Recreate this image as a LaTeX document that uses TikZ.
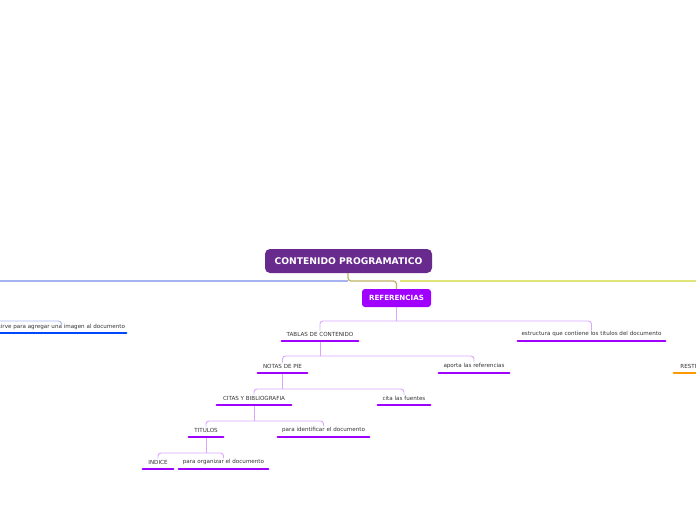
\documentclass[tikz,border=0pt]{standalone}
\usepackage{fontspec}
\setmainfont{DejaVu Sans}
\definecolor{cpurple}{RGB}{104,42,140}
\definecolor{vpurple}{RGB}{160,0,255}
\definecolor{lpurple}{RGB}{216,166,255}
\definecolor{lblue}{RGB}{165,180,240}
\definecolor{lyellow}{RGB}{222,228,120}
\definecolor{olive}{RGB}{190,178,100}
\definecolor{bblue}{RGB}{0,72,255}
\definecolor{orng}{RGB}{255,153,0}
\tikzset{
  topic/.style={inner xsep=0pt, inner ysep=1pt, font=\fontsize{5.6}{7}\selectfont, text=black!80},
  bar/.style={line width=2.6pt, line cap=round, draw=vpurple},
  conn/.style={draw=lpurple, line width=0.9pt, rounded corners=3pt},
}
\begin{document}
\begin{tikzpicture}[x=1pt,y=-1pt]
\useasboundingbox (0,0) rectangle (696,520);
\clip (0,0) rectangle (696,520);
% main lines
\node[fill=cpurple, rounded corners=5pt, minimum width=167pt, minimum height=24pt, text=white, font=\fontsize{9.2}{11}\bfseries\selectfont] (cp) at (348.5,261) {CONTENIDO PROGRAMATICO};
\coordinate (j0) at (348,281);
\coordinate (lend) at (-5,281);
\coordinate (ystart) at (400,281);
\coordinate (rend) at (701,281);
\draw[lblue, line width=1.2pt] (j0) -- (lend);
\draw[lyellow, line width=1.2pt] (ystart) -- (rend);
\node[fill=vpurple, rounded corners=3pt, minimum width=69pt, minimum height=18pt, text=white, font=\fontsize{7.1}{8}\bfseries\selectfont] (ref) at (396.5,298) {REFERENCIAS};
\draw[draw=olive, line width=1.2pt, rounded corners=3pt] (cp.south -| j0) |- (ref.north |- j0) -- (ref.north);
% level 1
\node[topic, minimum width=76pt] (tabl) at (320,334) {TABLAS DE CONTENIDO};
\node[topic, minimum width=147pt] (estr) at (591.5,334) {estructura que contiene los titulos del documento};
\coordinate (h0) at (396.5,321);
\draw[conn] (ref.south) -- (h0);
\draw[conn] (tabl.north) |- (h0) -| (estr.north);
% level 2
\node[topic, minimum width=49pt] (notas) at (282.5,366) {NOTAS DE PIE};
\node[topic, minimum width=70pt] (aporta) at (474,366) {aporta las referencias};
\coordinate (tablb) at ([yshift=-7pt]tabl.center);
\coordinate (h1) at (320,356);
\draw[conn] (tablb) -- (h1);
\draw[conn] (notas.north) |- (h1) -| (aporta.north);
% level 3
\node[topic, minimum width=74pt] (citas) at (254,398) {CITAS Y BIBLIOGRAFIA};
\node[topic, minimum width=52pt] (cita) at (404,398) {cita las fuentes};
\coordinate (notasb) at ([yshift=-7pt]notas.center);
\coordinate (h2) at (282.5,389);
\draw[conn] (notasb) -- (h2);
\draw[conn] (citas.north) |- (h2) -| (cita.north);
% level 4
\node[topic, minimum width=34pt] (titu) at (206,430) {TITULOS};
\node[topic, minimum width=91pt] (ident) at (323.5,430) {para identificar el documento};
\coordinate (citasb) at ([yshift=-7pt]citas.center);
\coordinate (h3) at (254,421);
\draw[conn] (citasb) -- (h3);
\draw[conn] (titu.north) |- (h3) -| (ident.north);
% level 5
\node[topic, minimum width=30pt] (indice) at (158,462) {INDICE};
\node[topic, minimum width=89pt] (organ) at (223.5,462) {para organizar el documento};
\coordinate (titub) at ([yshift=-7pt]titu.center);
\coordinate (h4) at (206,453);
\draw[conn] (titub) -- (h4);
\draw[conn] (indice.north) |- (h4) -| (organ.north);
% bars
\foreach \n in {tabl,estr,notas,aporta,citas,cita,titu,ident,indice,organ}
  \draw[bar] ([yshift=-7pt]\n.west) -- ([yshift=-7pt]\n.east);
% left branch
\node[topic, minimum width=129pt] (sirve) at (61.5,327) {sirve para agregar una imagen al documento};
\coordinate (lsrc) at (-20,321);
\draw[conn, draw=lblue] (lsrc) -| (sirve.north);
\draw[bar, draw=bblue] ([yshift=-6pt]sirve.west) -- ([yshift=-6pt]sirve.east);
% right branch
\node[topic, minimum width=58pt] (restr) at (703,366) {RESTRICCIONES};
\draw[bar, draw=orng] ([yshift=-7pt]restr.west) -- ([yshift=-7pt]restr.east);
\end{tikzpicture}
\end{document}
